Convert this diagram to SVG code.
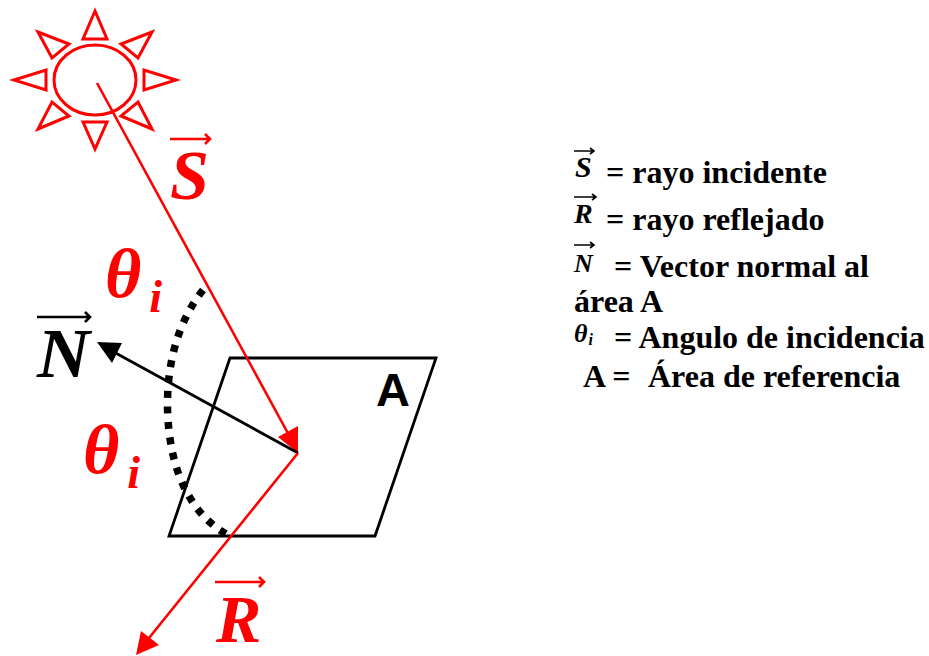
<svg xmlns="http://www.w3.org/2000/svg" width="929" height="656" viewBox="0 0 929 656">
<style>
.sun{fill:none;stroke:#f00;stroke-width:3}
.b{stroke:#000;stroke-width:2.8;fill:none}
.r{stroke:#f00;stroke-width:2.6;fill:none}
.leg{font:bold 32px "Liberation Serif",serif;fill:#000}
.sym{font-family:"Liberation Serif",serif;font-style:italic;font-weight:bold}
.ar{fill:none;stroke-width:2.6}
.ars{fill:none;stroke:#000;stroke-width:1.6}
</style>
<rect width="929" height="656" fill="#fff"/>
<g id="sun" class="sun">
<ellipse cx="95" cy="80" rx="41" ry="35"/>
<path d="M95 11L83 39H107Z"/>
<path d="M95 149L83 122H107Z"/>
<path d="M14 80L46 70V90Z"/>
<path d="M176 80L144 70V90Z"/>
<path d="M38 32L69 44L52 58Z"/>
<path d="M152 32L121 44L138 58Z"/>
<path d="M38 129L69 116L52 102Z"/>
<path d="M152 129L121 116L138 102Z"/>
</g>
<g id="area">
<path class="b" d="M230 358H436L375 536H169Z"/>
<text x="376" y="406" font-family="Liberation Sans,sans-serif" font-weight="bold" font-size="47" fill="#000">A</text>
</g>
<g id="angle">
<path d="M203 290C167 335 162 400 172 450C180 490 200 520 228 535" fill="none" stroke="#000" stroke-width="7.5" stroke-dasharray="7 8.5"/>
<text class="sym" x="105" y="297" font-size="70" fill="#f00">θ<tspan font-size="46" dx="8" dy="15">i</tspan></text>
<text class="sym" x="83" y="473" font-size="70" fill="#f00">θ<tspan font-size="46" dx="8" dy="15">i</tspan></text>
</g>
<g id="connectors">
<path class="r" d="M97 83L290 437"/>
<path d="M298 453L278 437L298 426Z" fill="#f00"/>
<path class="b" d="M298 453L112 351"/>
<path d="M97 342L122 343L112 363Z" fill="#000"/>
<path class="r" d="M298 453L149 638"/>
<path d="M136 655L141 631L159 645Z" fill="#f00"/>
</g>
<g id="label-S">
<path class="ar" stroke="#f00" d="M170 139H210M205 134L210 139L205 144"/>
<text class="sym" x="170" y="199" font-size="70" fill="#f00">S</text>
</g>
<g id="label-N">
<path class="ar" stroke="#000" d="M37 317H90M85 312L90 317L85 322"/>
<text class="sym" x="37" y="377" font-size="70" fill="#000" textLength="53" lengthAdjust="spacingAndGlyphs">N</text>
</g>
<g id="label-R">
<path class="ar" stroke="#f00" d="M215 582H264M259 577L264 582L259 587"/>
<text class="sym" x="216" y="642" font-size="68" fill="#f00">R</text>
</g>
<g id="legend">
<path class="ars" d="M574 151H594M590 148L594 151L590 154"/>
<text class="sym" x="575" y="177" font-size="30" fill="#000">S</text>
<text class="leg" x="606" y="183">= rayo incidente</text>
<path class="ars" d="M574 197H596M592 194L596 197L592 200"/>
<text class="sym" x="574" y="223" font-size="28" fill="#000">R</text>
<text class="leg" x="606" y="230">= rayo reflejado</text>
<path class="ars" d="M574 245H594M590 242L594 245L590 248"/>
<text class="sym" x="574" y="272" font-size="26" fill="#000">N</text>
<text class="leg" x="614" y="277">= Vector normal al</text>
<text class="leg" x="574" y="312">área A</text>
<text class="sym" x="574" y="342" font-size="26" fill="#000">θ<tspan font-size="16" dx="1" dy="3">i</tspan></text>
<text class="leg" x="614" y="348">= Angulo de incidencia</text>
<text class="leg" x="583" y="387">A =<tspan x="648">Área de referencia</tspan></text>
</g>
</svg>
